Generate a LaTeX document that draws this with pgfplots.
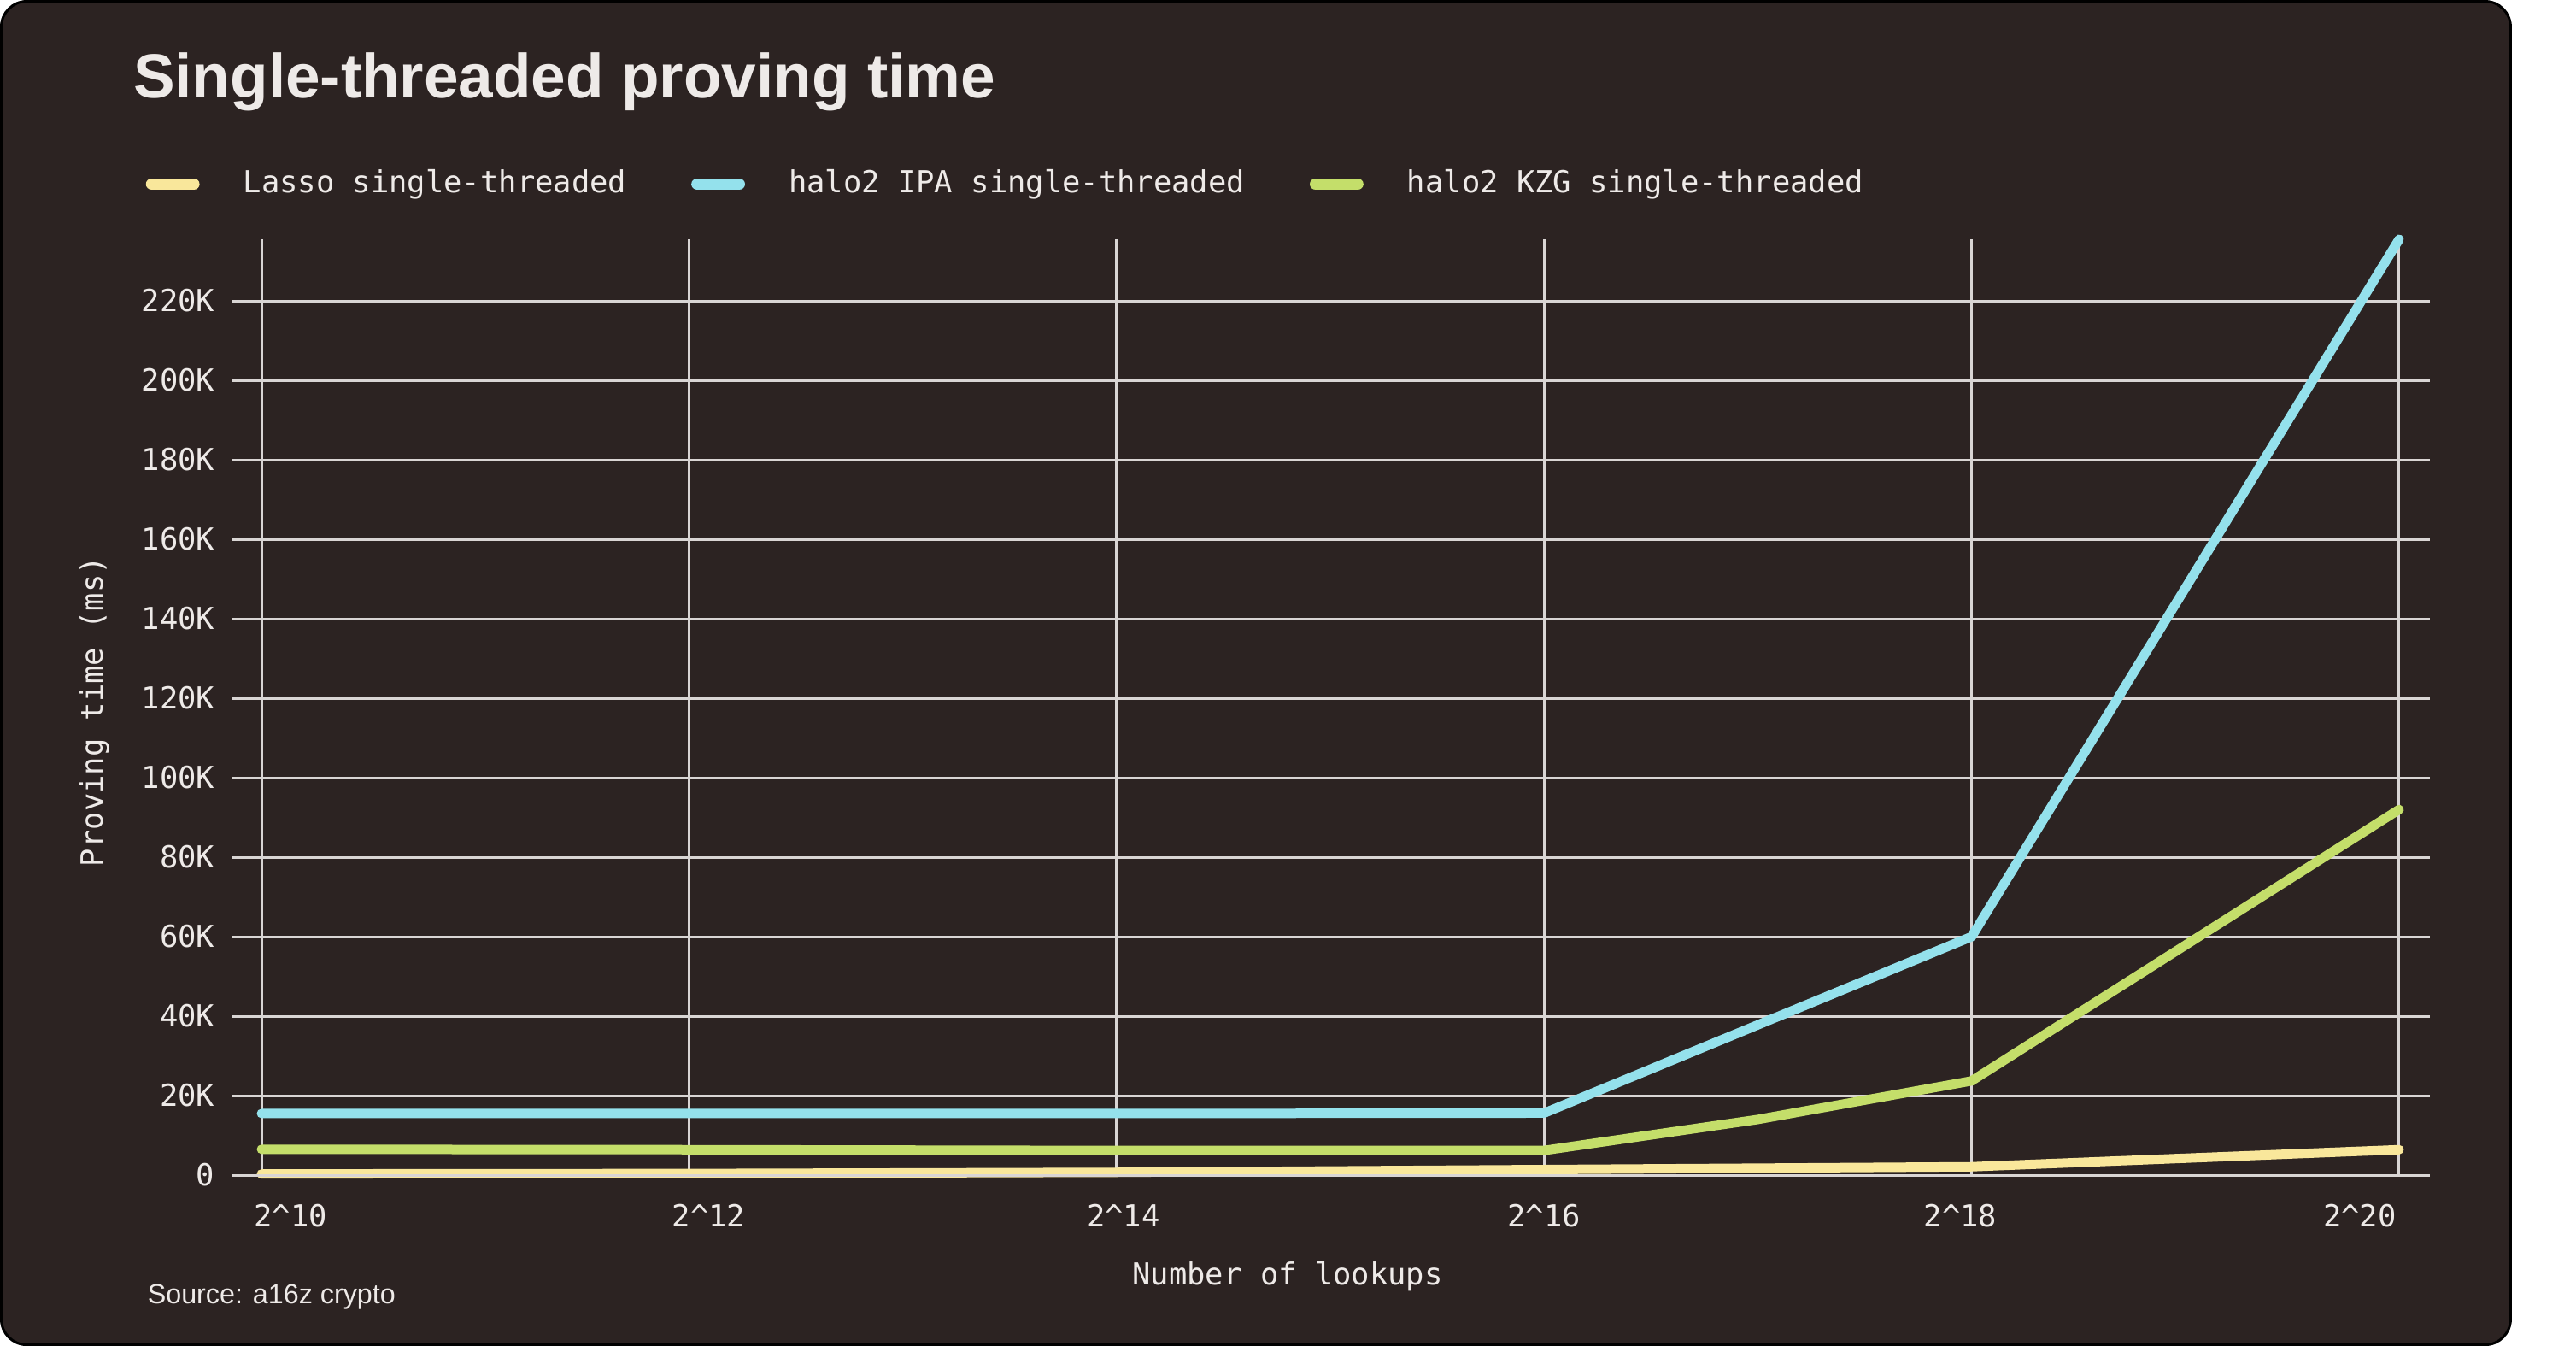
\documentclass[border=0pt]{standalone}
\usepackage{fontspec}
\setmainfont{Liberation Sans}
\newfontfamily\mono{DejaVu Sans Mono}
\usepackage{pgfplots}
\pgfplotsset{compat=1.18}

\definecolor{bg}{HTML}{2C2322}
\definecolor{fg}{HTML}{EEEAE8}
\definecolor{gridc}{HTML}{D9D5D4}
\definecolor{lasso}{HTML}{F9E79B}
\definecolor{ipa}{HTML}{94E1EC}
\definecolor{kzg}{HTML}{C4DE6A}

\newcommand{\monosize}{\mono\fontsize{8.9}{10}\selectfont}

\begin{document}
\begin{tikzpicture}
% page and card
\fill[white] (0,0) rectangle (753.75bp,-393.75bp);
\draw[line width=0.75bp, fill=bg, rounded corners=7.5bp] (0.375bp,-0.375bp) rectangle (734.6bp,-393.4bp);

\node[anchor=base west, inner sep=0pt, text=fg, font=\bfseries\fontsize{18.3}{22}\selectfont]
  at (38.8bp,-28.5bp) {Single-threaded proving time};
\node[anchor=base west, inner sep=0pt, text=fg, font=\fontsize{8.1}{10}\selectfont]
  at (43bp,-381.25bp) {Source: a16z crypto};

\begin{axis}[
  at={(67.75bp,-343.75bp)}, anchor=south west,
  width=643.25bp, height=273.75bp, scale only axis,
  xmin=9.86, xmax=20.144, ymin=0, ymax=235500,
  axis line style={draw=none},
  major tick style={draw=none},
  grid=major,
  major grid style={gridc, line width=0.75bp},
  clip=false,
  xtick={10,12,14,16,18,20},
  xticklabels={
    \makebox[0pt]{\kern17bp 2\textasciicircum 10},
    \makebox[0pt]{\kern11.5bp 2\textasciicircum 12},
    \makebox[0pt]{\kern4bp 2\textasciicircum 14},
    \makebox[0pt]{2\textasciicircum 16},
    \makebox[0pt]{2\textasciicircum 18\kern6.5bp},
    \makebox[0pt]{2\textasciicircum 20\kern23bp}},
  ytick={0,20000,40000,60000,80000,100000,120000,140000,160000,180000,200000,220000},
  yticklabels={0,20K,40K,60K,80K,100K,120K,140K,160K,180K,200K,220K},
  scaled y ticks=false,
  tick label style={font=\monosize, text=fg},
  xticklabel style={anchor=north, inner sep=0pt, yshift=-8.25bp},
  yticklabel style={anchor=east, inner sep=0pt, xshift=-4.75bp},
  xlabel={Number of lookups},
  ylabel={Proving time (ms)},
  every axis x label/.style={at={(rel axis cs:0.4804,-0.1169)}, anchor=base,
    font=\monosize, text=fg},
  every axis y label/.style={at={(rel axis cs:-0.05869,0.4954)}, rotate=90, anchor=base,
    font=\monosize, text=fg},
  legend style={at={(-0.03895,1.059)}, anchor=west, draw=none, fill=none,
    inner sep=0pt, outer sep=0pt, font=\monosize, text=fg,
    nodes={inner sep=0pt},
    /tikz/every odd column/.append style={column sep=12.8bp},
    /tikz/every even column/.append style={column sep=19bp}},
  legend columns=3,
  legend image code/.code={\draw[line width=3.4bp, line cap=round] (0bp,0bp) -- (12.3bp,0bp);},
  every axis plot/.append style={line width=2.75bp, line join=round, line cap=round},
]

\addplot[lasso] coordinates {(10,300) (12,400) (14,700) (16,1400) (18,2100) (20,6400)};
\addlegendentry{Lasso single-threaded}
\addplot[ipa] coordinates {(10,15500) (12,15500) (14,15500) (16,15600) (18,60000) (20,235500)};
\addlegendentry{halo2 IPA single-threaded}
\addplot[kzg] coordinates {(10,6500) (12,6400) (14,6200) (16,6200) (17,14000) (18,23700) (20,92000)};
\addlegendentry{halo2 KZG single-threaded}

\draw[gridc, line width=0.75bp] (rel axis cs:0,0) -- (rel axis cs:1,0);
\end{axis}

\pgfresetboundingbox
\path (0,0) rectangle (753.75bp,-393.75bp);
\end{tikzpicture}
\end{document}
